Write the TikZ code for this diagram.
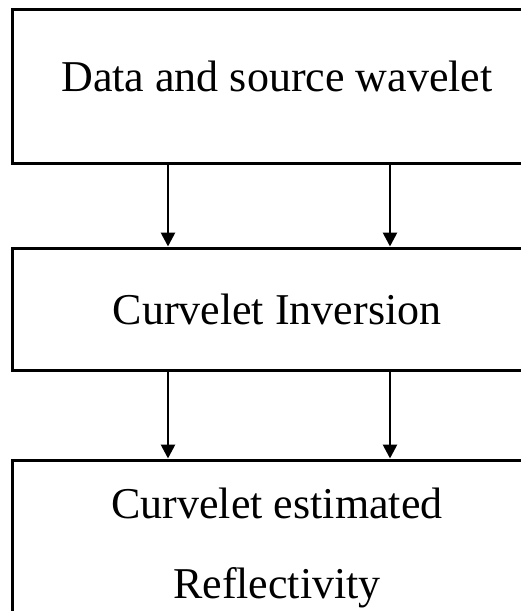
\documentclass[tikz,border=0pt]{standalone}
\usepackage{fontspec}
\setmainfont{Liberation Serif}
\usetikzlibrary{positioning}
\usetikzlibrary{arrows.meta}

\begin{document}
\begin{tikzpicture}[x=1pt,y=1pt,node distance=223pt,on grid,
   box/.style={draw,line width=3pt,minimum width=530pt,inner sep=0pt,
     font=\fontsize{44pt}{80pt}\selectfont}]
   \useasboundingbox (0,0) rectangle (520,-611);
   \node[box,minimum height=154pt,text depth=19pt] (data) at (277,-86) {Data and source wavelet};
   \node[box,minimum height=122pt] (inv) [below=of data] {Curvelet Inversion};
   \node[box,minimum height=176pt,align=center] (refl) [below=239pt of inv] {Curvelet estimated\\Reflectivity};
    \path[-{Triangle[length=14pt,width=14pt]},line width=2.7pt]
    ([xshift=-109pt]data.south) edge ([xshift=-109pt]inv.north)
    ([xshift=113pt]data.south) edge ([xshift=113pt]inv.north)
    ([xshift=-109pt]inv.south) edge ([xshift=-109pt]refl.north)
    ([xshift=113pt]inv.south) edge ([xshift=113pt]refl.north);

\end{tikzpicture}
\end{document}
